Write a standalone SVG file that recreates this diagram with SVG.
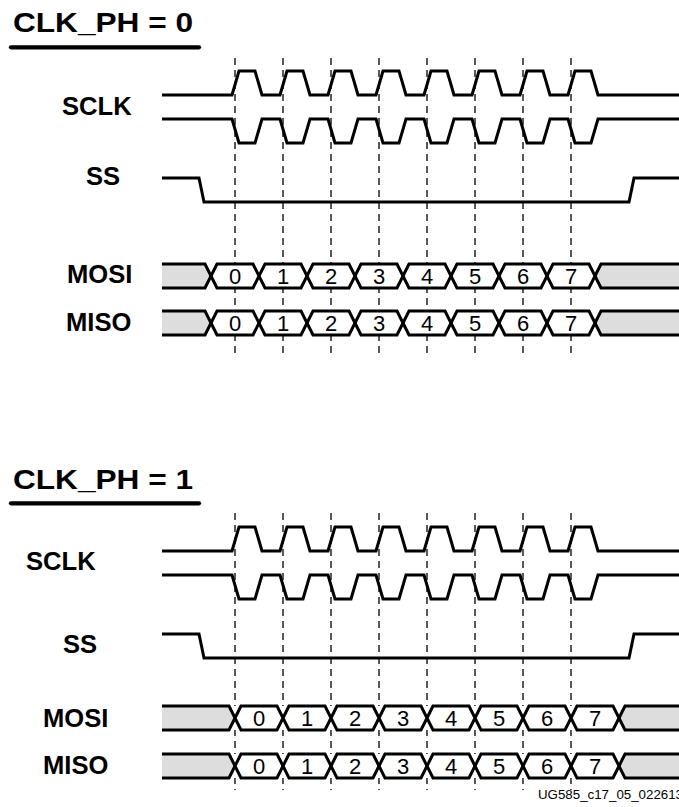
<svg xmlns="http://www.w3.org/2000/svg" width="679" height="807" viewBox="0 0 679 807">
<style>
.title{font-family:"Liberation Sans",Arial,sans-serif;font-weight:bold;font-size:28px;fill:#000}
.lbl{font-family:"Liberation Sans",Arial,sans-serif;font-weight:bold;font-size:25.6px;fill:#000}
.dig{font-family:"Liberation Sans",Arial,sans-serif;font-size:22px;fill:#000;text-anchor:middle}
.foot{font-family:"Liberation Sans",Arial,sans-serif;font-size:12px;fill:#000}
.wave{fill:none;stroke:#000;stroke-width:3;stroke-linejoin:miter}
.ul{stroke:#000;stroke-width:4.3;stroke-linecap:round}
.guide{stroke:#000;stroke-width:1.3;stroke-dasharray:7 5;fill:none}
.gray{fill:#dddddd;stroke:none}
.bg{fill:#fff;stroke:none}
</style>
<defs>
<g id="busA">
<rect class="bg" x="162" y="0" width="517" height="24"/>
<polygon class="gray" points="162,0 205,0 211,12 205,24 162,24"/>
<polygon class="gray" points="595,12 601,0 679,0 679,24 601,24"/>
<path class="wave" d="M162,0 H205 L217,24 H253 L265,0 H301 L313,24 H349 L361,0 H397 L409,24 H445 L457,0 H493 L505,24 H541 L553,0 H589 L601,24 H679"/>
<path class="wave" d="M162,24 H205 L217,0 H253 L265,24 H301 L313,0 H349 L361,24 H397 L409,0 H445 L457,24 H493 L505,0 H541 L553,24 H589 L601,0 H679"/>
</g>
<g id="busB">
<rect class="bg" x="162" y="0" width="517" height="24"/>
<polygon class="gray" points="162,0 229,0 235,12 229,24 162,24"/>
<polygon class="gray" points="619,12 625,0 679,0 679,24 625,24"/>
<path class="wave" d="M162,0 H229 L241,24 H277 L289,0 H325 L337,24 H373 L385,0 H421 L433,24 H469 L481,0 H517 L529,24 H565 L577,0 H613 L625,24 H679"/>
<path class="wave" d="M162,24 H229 L241,0 H277 L289,24 H325 L337,0 H373 L385,24 H421 L433,0 H469 L481,24 H517 L529,0 H565 L577,24 H613 L625,0 H679"/>
</g>
<g id="digA">
<text class="dig" x="235" y="20">0</text>
<text class="dig" x="283" y="20">1</text>
<text class="dig" x="331" y="20">2</text>
<text class="dig" x="379" y="20">3</text>
<text class="dig" x="427" y="20">4</text>
<text class="dig" x="475" y="20">5</text>
<text class="dig" x="523" y="20">6</text>
<text class="dig" x="571" y="20">7</text>
</g>
<g id="digB">
<text class="dig" x="259" y="20">0</text>
<text class="dig" x="307" y="20">1</text>
<text class="dig" x="355" y="20">2</text>
<text class="dig" x="403" y="20">3</text>
<text class="dig" x="451" y="20">4</text>
<text class="dig" x="499" y="20">5</text>
<text class="dig" x="547" y="20">6</text>
<text class="dig" x="595" y="20">7</text>
</g>
</defs>

<g id="connectors">
<path class="guide" d="M235,58V358 M283,58V358 M331,58V358 M379,58V358 M427,58V358 M475,58V358 M523,58V358 M571,58V358"/>
<path class="guide" d="M235,513V790 M283,513V790 M331,513V790 M379,513V790 M427,513V790 M475,513V790 M523,513V790 M571,513V790"/>
</g>

<g id="title0">
<text class="title" x="13" y="31.7" textLength="180" lengthAdjust="spacingAndGlyphs">CLK_PH = 0</text>
<line class="ul" x1="11" y1="47.3" x2="199" y2="47.3"/>
</g>
<g id="sclk0">
<text class="lbl" x="62" y="115">SCLK</text>
<path class="wave" d="M162,95 L232,95 L239,71 L255,71 L262,95 L280,95 L287,71 L303,71 L310,95 L328,95 L335,71 L351,71 L358,95 L376,95 L383,71 L399,71 L406,95 L424,95 L431,71 L447,71 L454,95 L472,95 L479,71 L495,71 L502,95 L520,95 L527,71 L543,71 L550,95 L568,95 L575,71 L591,71 L598,95 L679,95"/>
<path class="wave" d="M162,119 L232,119 L239,143 L255,143 L262,119 L280,119 L287,143 L303,143 L310,119 L328,119 L335,143 L351,143 L358,119 L376,119 L383,143 L399,143 L406,119 L424,119 L431,143 L447,143 L454,119 L472,119 L479,143 L495,143 L502,119 L520,119 L527,143 L543,143 L550,119 L568,119 L575,143 L591,143 L598,119 L679,119"/>
</g>
<g id="ss0">
<text class="lbl" x="86" y="185">SS</text>
<path class="wave" d="M162,178 H199 L204,202 H629 L634,178 H679"/>
</g>
<g id="mosi0">
<text class="lbl" x="67" y="283">MOSI</text>
<use href="#busA" y="264"/>
<use href="#digA" y="264"/>
</g>
<g id="miso0">
<text class="lbl" x="66" y="331">MISO</text>
<use href="#busA" y="311"/>
<use href="#digA" y="311"/>
</g>

<g id="title1">
<text class="title" x="13" y="489" textLength="180" lengthAdjust="spacingAndGlyphs">CLK_PH = 1</text>
<line class="ul" x1="11" y1="503.3" x2="199" y2="503.3"/>
</g>
<g id="sclk1">
<text class="lbl" x="26" y="570">SCLK</text>
<path class="wave" d="M162,551 L232,551 L239,527 L255,527 L262,551 L280,551 L287,527 L303,527 L310,551 L328,551 L335,527 L351,527 L358,551 L376,551 L383,527 L399,527 L406,551 L424,551 L431,527 L447,527 L454,551 L472,551 L479,527 L495,527 L502,551 L520,551 L527,527 L543,527 L550,551 L568,551 L575,527 L591,527 L598,551 L679,551"/>
<path class="wave" d="M162,575 L232,575 L239,599 L255,599 L262,575 L280,575 L287,599 L303,599 L310,575 L328,575 L335,599 L351,599 L358,575 L376,575 L383,599 L399,599 L406,575 L424,575 L431,599 L447,599 L454,575 L472,575 L479,599 L495,599 L502,575 L520,575 L527,599 L543,599 L550,575 L568,575 L575,599 L591,599 L598,575 L679,575"/>
</g>
<g id="ss1">
<text class="lbl" x="63" y="653">SS</text>
<path class="wave" d="M162,634 H199 L204,658 H629 L634,634 H679"/>
</g>
<g id="mosi1">
<text class="lbl" x="43" y="727">MOSI</text>
<use href="#busB" y="706"/>
<use href="#digB" y="706"/>
</g>
<g id="miso1">
<text class="lbl" x="43" y="774">MISO</text>
<use href="#busB" y="754"/>
<use href="#digB" y="754"/>
</g>

<g id="footer">
<text class="foot" x="538" y="799" textLength="145" lengthAdjust="spacingAndGlyphs">UG585_c17_05_022613</text>
</g>
</svg>
